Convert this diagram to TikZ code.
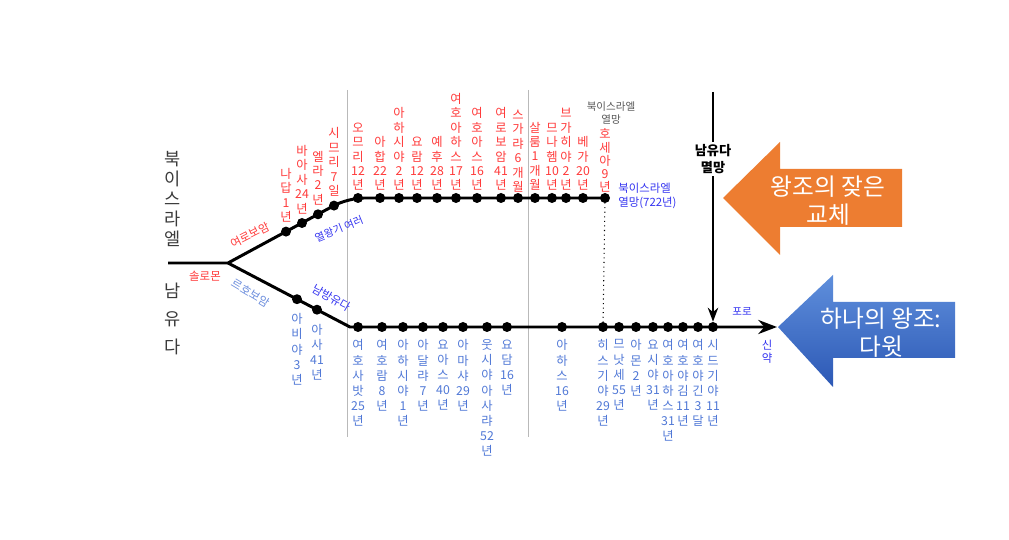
\documentclass[tikz,border=0pt]{standalone}
\usepackage{fontspec}
\setmainfont{Noto Sans CJK KR}
\usetikzlibrary{arrows.meta,positioning}

\definecolor{kingred}{HTML}{FF3A3A}
\definecolor{kingblue}{HTML}{5078D6}
\definecolor{noteblue}{HTML}{3535F0}
\definecolor{darktext}{HTML}{3A3A3A}
\definecolor{arroworange}{HTML}{ED7D31}
\definecolor{arrowbluetop}{HTML}{5F8FDC}
\definecolor{arrowbluebot}{HTML}{2C58B5}

\begin{document}
\begin{tikzpicture}[
    x=0.02cm, y=0.02cm,
    >=Stealth,
    dot/.style={circle, fill=black, inner sep=0pt, minimum size=0.2cm},
    track/.style={line width=1.7pt},
    uplab/.style={text=kingred, font=\fontsize{7}{8.2}\selectfont, align=center, inner sep=0pt},
    lowlab/.style={text=kingblue, font=\fontsize{7}{8.6}\selectfont, align=center, inner sep=0pt},
    note/.style={text=noteblue, font=\fontsize{6}{7.4}\selectfont, inner sep=0pt},
    side/.style={text=darktext, font=\fontsize{10}{11.4}\selectfont, align=center, inner sep=0pt},
    divider/.style={draw=gray!55, line width=0.5pt},
    bigtext/.style={text=white, font=\fontsize{13.5}{16}\selectfont, align=center, inner sep=0pt}
]
\useasboundingbox (0,0) rectangle (1009,-540);

% Era dividers
\draw[divider] (347,-90) -- (347,-437);
\draw[divider] (528,-90) -- (528,-437);

% Track points
\coordinate (stem) at (168,-263);
\coordinate (split) at (228,-263);
\coordinate (ubend) at (348,-198);
\coordinate (lbend) at (350,-327);
\coordinate (lend) at (777,-327);

% Northern kings (upper track)
\node[dot] (u1) at (286,-231.6) {};
\node[dot] (u2) at (302,-223) {};
\node[dot] (u3) at (318,-214.3) {};
\node[dot] (u4) at (334,-205.6) {};
\node[dot] (u5) at (358,-198) {};
\node[dot] (u6) at (380,-198) {};
\node[dot] (u7) at (399,-198) {};
\node[dot] (u8) at (417,-198) {};
\node[dot] (u9) at (437,-198) {};
\node[dot] (u10) at (456,-198) {};
\node[dot] (u11) at (477,-198) {};
\node[dot] (u12) at (501,-198) {};
\node[dot] (u13) at (518,-198) {};
\node[dot] (u14) at (535,-198) {};
\node[dot] (u15) at (552,-198) {};
\node[dot] (u16) at (566,-198) {};
\node[dot] (u17) at (583,-198) {};
\node[dot] (u18) at (605,-198) {};

\node[uplab, above=2pt of u1] (ut1) {나\\답\\1\\년};
\node[uplab, above=2pt of u2] (ut2) {바\\아\\사\\24\\년};
\node[uplab, above=2pt of u3] (ut3) {엘\\라\\2\\년};
\node[uplab, above=2pt of u4] (ut4) {시\\므\\리\\7\\일};
\node[uplab, above=1pt of u5] (ut5) {오\\므\\리\\12\\년};
\node[uplab, above=1pt of u6] (ut6) {아\\합\\22\\년};
\node[uplab, above=1pt of u7] (ut7) {아\\하\\시\\야\\2\\년};
\node[uplab, above=1pt of u8] (ut8) {요\\람\\12\\년};
\node[uplab, above=1pt of u9] (ut9) {예\\후\\28\\년};
\node[uplab, above=1pt of u10] (ut10) {여\\호\\아\\하\\스\\17\\년};
\node[uplab, above=1pt of u11] (ut11) {여\\호\\아\\스\\16\\년};
\node[uplab, above=1pt of u12] (ut12) {여\\로\\보\\암\\41\\년};
\node[uplab, above=0pt of u13] (ut13) {스\\가\\랴\\6\\개\\월};
\node[uplab, above=1pt of u14] (ut14) {살\\룸\\1\\개\\월};
\node[uplab, above=1pt of u15] (ut15) {므\\나\\헴\\10\\년};
\node[uplab, above=1pt of u16] (ut16) {브\\가\\히\\야\\2\\년};
\node[uplab, above=1pt of u17] (ut17) {베\\가\\20\\년};
\node[uplab, font=\fontsize{7}{7.5}\selectfont, above=0pt of u18] (ut18) {호\\세\\아\\9\\년};

% Southern kings (lower track)
\node[dot] (d1) at (297,-299.2) {};
\node[dot] (d2) at (317,-309.7) {};
\node[dot] (d3) at (358,-327) {};
\node[dot] (d4) at (382,-327) {};
\node[dot] (d5) at (403,-327) {};
\node[dot] (d6) at (423,-327) {};
\node[dot] (d7) at (443,-327) {};
\node[dot] (d8) at (463,-327) {};
\node[dot] (d9) at (487,-327) {};
\node[dot] (d10) at (507,-327) {};
\node[dot] (d11) at (562,-327) {};
\node[dot] (d12) at (603,-327) {};
\node[dot] (d13) at (619,-327) {};
\node[dot] (d14) at (636,-327) {};
\node[dot] (d15) at (653,-327) {};
\node[dot] (d16) at (668,-327) {};
\node[dot] (d17) at (683,-327) {};
\node[dot] (d18) at (698,-327) {};
\node[dot] (d19) at (713,-327) {};

\node[lowlab, below=5pt of d1] (dt1) {아\\비\\야\\3\\년};
\node[lowlab, below=5pt of d2] (dt2) {아\\사\\41\\년};
\node[lowlab, below=4pt of d3] (dt3) {여\\호\\사\\밧\\25\\년};
\node[lowlab, below=4pt of d4] (dt4) {여\\호\\람\\8\\년};
\node[lowlab, below=4pt of d5] (dt5) {아\\하\\시\\야\\1\\년};
\node[lowlab, below=4pt of d6] (dt6) {아\\달\\랴\\7\\년};
\node[lowlab, below=4pt of d7] (dt7) {요\\아\\스\\40\\년};
\node[lowlab, below=4pt of d8] (dt8) {아\\마\\샤\\29\\년};
\node[lowlab, below=4pt of d9] (dt9) {웃\\시\\야\\아\\사\\랴\\52\\년};
\node[lowlab, below=4pt of d10] (dt10) {요\\담\\16\\년};
\node[lowlab, below=4pt of d11] (dt11) {아\\하\\스\\16\\년};
\node[lowlab, below=4pt of d12] (dt12) {히\\스\\기\\야\\29\\년};
\node[lowlab, below=4pt of d13] (dt13) {므\\낫\\세\\55\\년};
\node[lowlab, below=4pt of d14] (dt14) {아\\몬\\2\\년};
\node[lowlab, below=4pt of d15] (dt15) {요\\시\\야\\31\\년};
\node[lowlab, below=4pt of d16] (dt16) {여\\호\\아\\하\\스\\31\\년};
\node[lowlab, below=4pt of d17] (dt17) {여\\호\\야\\김\\11\\년};
\node[lowlab, below=4pt of d18] (dt18) {여\\호\\야\\긴\\3\\달};
\node[lowlab, below=4pt of d19] (dt19) {시\\드\\기\\야\\11\\년};

% Tracks
\draw[track] (stem) -- (split) [rounded corners=9pt] -- (ubend) -- (u18.center);
\draw[track, ->] (split) -- (lbend) -- (lend);
\draw[dotted, line width=0.6pt] (u18.center) -- (d12.center);

% Kingdom names
\node[side] (israel) at (173,-199) {북\\이\\스\\라\\엘};
\node[side, font=\fontsize{10}{16}\selectfont] (judah) at (173,-319) {남\\유\\다};

% Track notes
\node[text=kingred, font=\fontsize{6.5}{7.5}\selectfont, rotate=27, inner sep=0pt] (jeroboam) at (250,-235) {여로보암};
\node[text=kingred, font=\fontsize{6.5}{7.5}\selectfont, inner sep=0pt] (solomon) at (205,-276) {솔로몬};
\node[text=kingblue!85, font=\fontsize{6.5}{7.5}\selectfont, rotate=-31, inner sep=0pt] (rehoboam) at (251,-293) {르호보암};
\node[note, font=\fontsize{6.5}{7.5}\selectfont, rotate=-30] (southjudah) at (332,-298) {남방유다};
\node[note, rotate=22] (kings) at (339,-229) {열왕기 여러};
\node[note, text=darktext!85, align=center] (fallnote) at (611,-113) {북이스라엘\\열망};
\node[note, anchor=west, align=left, font=\fontsize{6.5}{7.6}\selectfont] (fall) at (618,-196) {북이스라엘\\열망(722년)};
\node[note] (exile) at (742,-311) {포로};
\node[note, align=center, font=\fontsize{6.5}{7.6}\selectfont] (nt) at (767,-352) {신\\약};

% Fall of Judah
\coordinate (falltop) at (713,-92);
\node[font=\bfseries\fontsize{7.5}{10}\selectfont, align=center, inner sep=1pt] (judahfall) at (713,-159) {남유다\\멸망};
\draw[line width=1.1pt] (falltop) -- (judahfall.north);
\draw[line width=1.1pt, ->] (judahfall.south) -- (d19.north);

% Big arrows
\fill[arroworange] (723,-198) -- (780,-142) -- (780,-169) -- (902,-169) -- (902,-227) -- (780,-227) -- (780,-255) -- cycle;
\node[bigtext] (change) at (828,-201) {왕조의 잦은\\교체};
\shade[top color=arrowbluetop, bottom color=arrowbluebot] (778,-327) -- (833,-275) -- (833,-302) -- (955,-302) -- (955,-358) -- (833,-358) -- (833,-387) -- cycle;
\node[bigtext] (david) at (881,-333) {하나의 왕조:\\다윗};

\end{tikzpicture}
\end{document}
